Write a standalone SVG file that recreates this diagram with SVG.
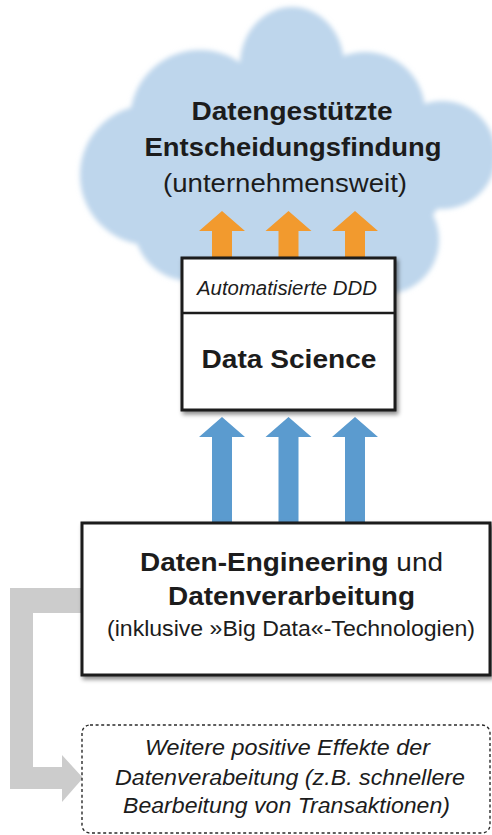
<svg xmlns="http://www.w3.org/2000/svg" width="492" height="835" viewBox="0 0 492 835">
  <defs>
    <style>
      .txt { font-family: "Liberation Sans", Arial, Helvetica, sans-serif; fill: #1c1c1c; text-anchor: middle; }
      .b { font-weight: bold; }
      .i { font-style: italic; }
      .box { fill: #ffffff; stroke: #1c1c1c; stroke-width: 3; }
      .cloud { fill: #bed6ec; }
      .up-orange { fill: #f29a2e; }
      .up-blue { fill: #5b9bcf; }
      .feedback { fill: #cccccc; }
      .dashed { fill: #ffffff; stroke: #2a2a2a; stroke-width: 1.4; stroke-dasharray: 3 2.6; }
    </style>
    <filter id="soft" x="-10%" y="-10%" width="120%" height="120%">
      <feGaussianBlur stdDeviation="2.5"/>
    </filter>
    <filter id="shadow" x="-10%" y="-10%" width="125%" height="130%">
      <feDropShadow dx="2" dy="3" stdDeviation="2" flood-color="#000000" flood-opacity="0.45"/>
    </filter>
    <!-- block arrow pointing up; origin at the tip -->
    <path id="orangeArrow" d="M0,0 L23,20 L10,20 L10,47 L-10,47 L-10,20 L-23,20 Z"/>
    <path id="blueArrow" d="M0,0 L23,20 L10,20 L10,106 L-10,106 L-10,20 L-23,20 Z"/>
  </defs>

  <!-- cloud: data-driven decision making -->
  <g id="cloud">
    <g class="cloud" filter="url(#soft)">
      <ellipse cx="292" cy="65" rx="52" ry="58"/>
      <circle cx="200" cy="120" r="70"/>
      <circle cx="150" cy="175" r="70"/>
      <circle cx="190" cy="225" r="56"/>
      <circle cx="365" cy="112" r="60"/>
      <circle cx="442" cy="155" r="54"/>
      <circle cx="385" cy="240" r="54"/>
      <ellipse cx="290" cy="170" rx="160" ry="100"/>
    </g>
    <text class="txt b" x="292" y="120" font-size="26" textLength="201" lengthAdjust="spacingAndGlyphs">Datengestützte</text>
    <text class="txt b" x="293" y="156" font-size="26" textLength="297" lengthAdjust="spacingAndGlyphs">Entscheidungsfindung</text>
    <text class="txt" x="285" y="192" font-size="26" textLength="244" lengthAdjust="spacingAndGlyphs">(unternehmensweit)</text>
  </g>

  <!-- connectors -->
  <g id="connectors">
    <use href="#orangeArrow" class="up-orange" x="222" y="211"/>
    <use href="#orangeArrow" class="up-orange" x="288.5" y="211"/>
    <use href="#orangeArrow" class="up-orange" x="355" y="211"/>
    <use href="#blueArrow" class="up-blue" x="222" y="417"/>
    <use href="#blueArrow" class="up-blue" x="288.5" y="417"/>
    <use href="#blueArrow" class="up-blue" x="355" y="417"/>
    <path class="feedback" d="M10,588 L90,588 L90,613 L33,613 L33,767 L62,767 L62,755 L83,778 L62,802 L62,789 L10,789 Z"/>
  </g>

  <!-- data science -->
  <g id="data-science">
    <rect class="box" x="182" y="258" width="213" height="152" filter="url(#shadow)"/>
    <line x1="182" y1="313" x2="395" y2="313" stroke="#1c1c1c" stroke-width="2.5"/>
    <text class="txt i" x="287" y="295" font-size="19.5" textLength="180" lengthAdjust="spacingAndGlyphs">Automatisierte DDD</text>
    <text class="txt b" x="289" y="368" font-size="26" textLength="175" lengthAdjust="spacingAndGlyphs">Data Science</text>
  </g>

  <!-- data engineering and processing -->
  <g id="data-engineering">
    <rect class="box" x="82" y="523" width="408" height="152" filter="url(#shadow)"/>
    <text class="txt" x="291.5" y="571" font-size="26" textLength="303" lengthAdjust="spacingAndGlyphs"><tspan class="b">Daten-Engineering</tspan> und</text>
    <text class="txt b" x="291.5" y="605" font-size="26" textLength="247" lengthAdjust="spacingAndGlyphs">Datenverarbeitung</text>
    <text class="txt" x="291" y="636" font-size="22" textLength="368" lengthAdjust="spacingAndGlyphs">(inklusive »Big Data«-Technologien)</text>
  </g>

  <!-- further effects -->
  <g id="further-effects">
    <rect class="dashed" x="82" y="725" width="408" height="108" rx="8" ry="8"/>
    <text class="txt i" x="287.5" y="755" font-size="22" textLength="285" lengthAdjust="spacingAndGlyphs">Weitere positive Effekte der</text>
    <text class="txt i" x="290" y="785" font-size="22" textLength="350" lengthAdjust="spacingAndGlyphs">Datenverabeitung (z.B. schnellere</text>
    <text class="txt i" x="286.5" y="813" font-size="22" textLength="327" lengthAdjust="spacingAndGlyphs">Bearbeitung von Transaktionen)</text>
  </g>
</svg>
